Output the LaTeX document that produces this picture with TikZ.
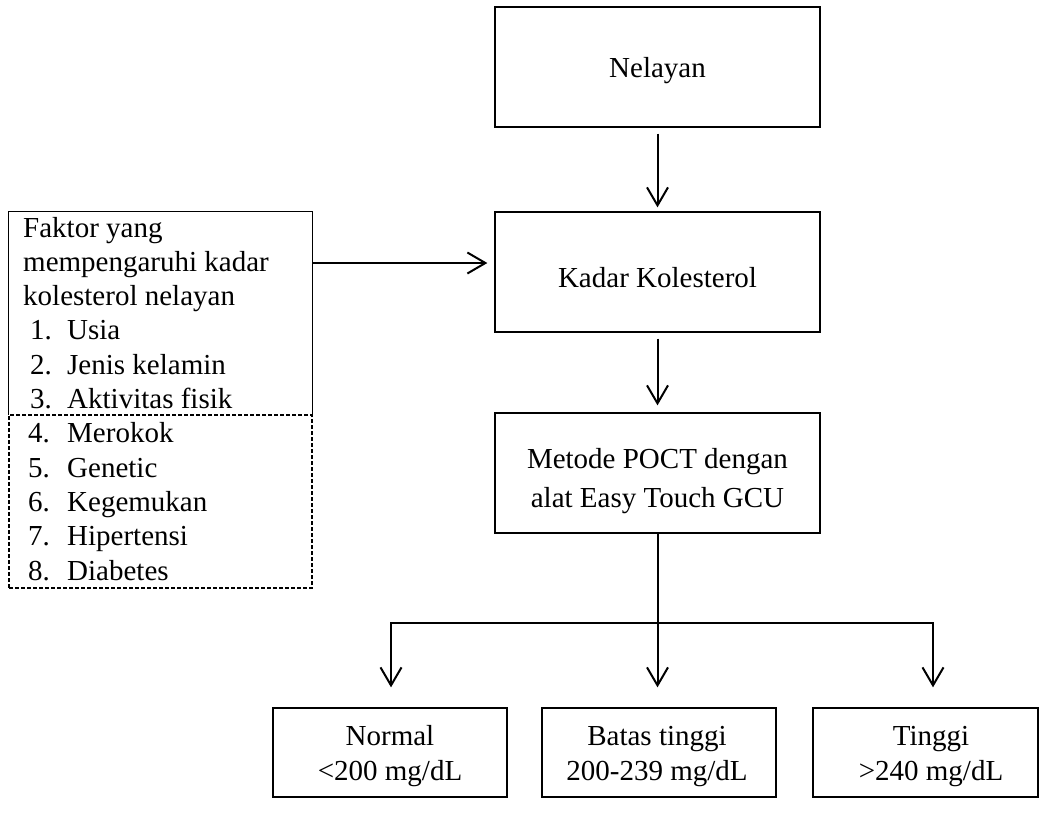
\documentclass[tikz,border=0pt]{standalone}
\usepackage{fontspec}
\setmainfont{Liberation Serif}
\usetikzlibrary{arrows.meta}
\begin{document}
\begin{tikzpicture}[x=1pt,y=-1pt,
  box/.style={draw, line width=1.3pt, inner sep=0pt, minimum width=325pt, minimum height=120pt},
  res/.style={draw, line width=1.3pt, inner sep=0pt, minimum height=89pt},
  txt/.style={anchor=base, inner sep=0pt, font=\fontsize{29}{34.3}\selectfont},
  ltxt/.style={anchor=base west, inner sep=0pt, font=\fontsize{29}{34.3}\selectfont},
  tipv/.tip={Straight Barb[length=18pt,width=21pt,line width=2pt]},
  arr/.style={line width=2pt, -tipv},
  dsh/.style={draw, line width=1.5pt, dash pattern=on 4pt off 2pt}]
\useasboundingbox (0,0) rectangle (1041,812);
% right column
\node[box] (nel) at (657.5,67) {};
\node[txt] (nelt) at (657.5,77) {Nelayan};
\node[box] (kad) at (657.5,272) {};
\node[txt] (kadt) at (657.5,287) {Kadar Kolesterol};
\node[box] (met) at (657.5,473) {};
\node[txt] (met1) at (657.5,468) {Metode POCT dengan};
\node[txt] (met2) at (657.5,507) {alat Easy Touch GCU};
% bottom results
\node[res, minimum width=234pt] (nor) at (390,752.5) {};
\node[txt] (nor1) at (390,745) {Normal};
\node[txt] (nor2) at (390,780) {<200 mg/dL};
\node[res, minimum width=234pt] (bat) at (659,752.5) {};
\node[txt] (bat1) at (657,745) {Batas tinggi};
\node[txt] (bat2) at (657,780) {200-239 mg/dL};
\node[res, minimum width=225pt] (tin) at (925.5,752.5) {};
\node[txt] (tin1) at (931,745) {Tinggi};
\node[txt] (tin2) at (931,780) {>240 mg/dL};
% left factor box
\node[inner sep=0pt, minimum width=303pt, minimum height=203pt] (fak) at (160.5,313.5) {};
\draw[line width=1.3pt] (fak.south west) -- (fak.north west) -- (fak.north east) -- (fak.south east);
\node[dsh, inner sep=0pt, minimum width=303pt, minimum height=173pt] (fak2) at (160.5,501.5) {};
\node[ltxt] (f1) at (23,237) {Faktor yang};
\node[ltxt] (f2) at (23,271.3) {mempengaruhi kadar};
\node[ltxt] (f3) at (23,305.6) {kolesterol nelayan};
\node[ltxt] (n1) at (30,339.9) {1.};
\node[ltxt] (i1) at (67,339.9) {Usia};
\node[ltxt] (n2) at (30,374.2) {2.};
\node[ltxt] (i2) at (67,374.2) {Jenis kelamin};
\node[ltxt] (n3) at (30,408.5) {3.};
\node[ltxt] (i3) at (67,408.5) {Aktivitas fisik};
\node[ltxt] (n4) at (28,442.8) {4.};
\node[ltxt] (i4) at (67,442.8) {Merokok};
\node[ltxt] (n5) at (28,477.1) {5.};
\node[ltxt] (i5) at (67,477.1) {Genetic};
\node[ltxt] (n6) at (28,511.4) {6.};
\node[ltxt] (i6) at (67,511.4) {Kegemukan};
\node[ltxt] (n7) at (28,545.7) {7.};
\node[ltxt] (i7) at (67,545.7) {Hipertensi};
\node[ltxt] (n8) at (28,580) {8.};
\node[ltxt] (i8) at (67,580) {Diabetes};
% connectors
\coordinate (fy) at (0,263);
\coordinate (jl) at (391,623);
\coordinate (jr) at (933,623);
\draw[arr, shorten <=6pt, shorten >=4pt] (nel) -- (kad);
\draw[arr, shorten <=6pt, shorten >=7pt] (kad) -- (met);
\draw[arr, shorten >=7pt] (fak.east |- fy) -- (kad.west |- fy);
\draw[arr, shorten >=20pt] (met.south) -- (met.south |- bat.north);
\draw[line width=2pt, tipv-tipv, shorten <=20pt, shorten >=20pt] (jl |- nor.north) -- (jl) -- (jr) -- (jr |- tin.north);
\end{tikzpicture}
\end{document}
